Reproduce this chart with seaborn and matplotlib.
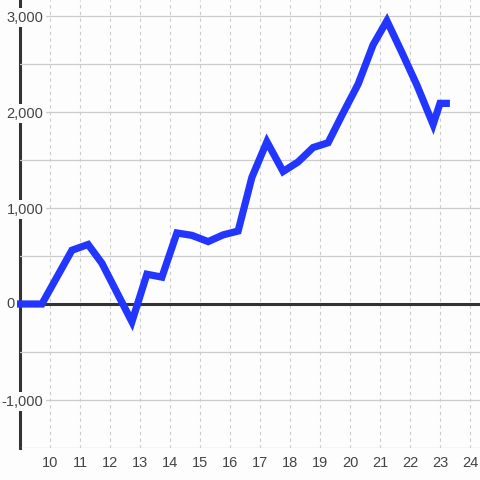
import numpy as np
import pandas as pd
import matplotlib
matplotlib.use("Agg")
import matplotlib.pyplot as plt
from matplotlib.ticker import FixedLocator, FuncFormatter
import seaborn as sns

# values (hour of day, running total)
hours = [8.9, 9.73, 10.73, 11.27, 11.73, 12.73, 13.23, 13.73, 14.23, 14.73,
         15.27, 15.77, 16.27, 16.73, 17.23, 17.77, 18.27, 18.77, 19.27, 19.77,
         20.27, 20.77, 21.23, 21.73, 22.23, 22.77, 23.0, 23.33]
totals = [0, 0, 560, 620, 425, -185, 310, 280, 740, 715,
          650, 720, 760, 1320, 1690, 1380, 1480, 1630, 1680, 1990,
          2290, 2700, 2950, 2620, 2280, 1870, 2090, 2090]
x_ticks = list(range(10, 25))
y_ticks = [-1000, 0, 1000, 2000, 3000]

df = pd.DataFrame({"hour": hours, "total": totals})

bg = "#fcfdfc"
sns.set_style("white")
plt.rcParams["font.family"] = ["Liberation Sans", "DejaVu Sans"]

fig = plt.figure(figsize=(4.8, 4.8), dpi=100, facecolor=bg)
ax = fig.add_axes([20 / 480, 32 / 480, 460 / 480, 448 / 480])
ax.set_facecolor(bg)

sns.lineplot(data=df, x="hour", y="total", ax=ax, color="#2236ff",
             linewidth=5.2, estimator=None, solid_joinstyle="miter",
             solid_capstyle="butt", clip_on=False, zorder=3)

ax.set_xlim(9, 24.333)
ax.set_ylim(-1500, 3166.7)

# grid: solid horizontals every 500, dashed verticals every hour
ax.set_axisbelow(True)
ax.yaxis.set_major_locator(FixedLocator(y_ticks))
ax.yaxis.set_minor_locator(FixedLocator([-1500, -500, 500, 1500, 2500]))
# zero gets its own label left of the axis line
ax.yaxis.set_major_formatter(FuncFormatter(lambda v, p: f"{int(v):,}" if v != 0 else ""))
ax.xaxis.set_major_locator(FixedLocator(x_ticks))
ax.grid(axis="y", which="both", color="#cccccc", linewidth=0.9, linestyle="-")
ax.grid(axis="x", which="major", color="#cccccc", linewidth=0.8,
        linestyle=(0, (3, 3)))

ax.axhline(0, color="#333333", linewidth=2.2, zorder=1)

for s in ["top", "right", "bottom"]:
    ax.spines[s].set_visible(False)
ax.spines["left"].set_color("#333333")
ax.spines["left"].set_linewidth(2.2)
ax.spines["left"].set_zorder(0.4)

ax.tick_params(axis="y", which="both", length=0, pad=-17, labelsize=10.5,
               labelcolor="#444444")
ax.tick_params(axis="x", length=0, pad=6, labelsize=10.5, labelcolor="#444444")
for lab in ax.get_yticklabels():
    lab.set_bbox(dict(facecolor=bg, edgecolor="none", pad=1.5))

ax.annotate("0", xy=(0, 0), xycoords=("axes fraction", "data"),
            xytext=(-5, 0), textcoords="offset pixels", ha="right",
            va="center", fontsize=10.5, color="#444444")

ax.set_xlabel("")
ax.set_ylabel("")

fig.savefig("out.png", dpi=100, facecolor=bg)
